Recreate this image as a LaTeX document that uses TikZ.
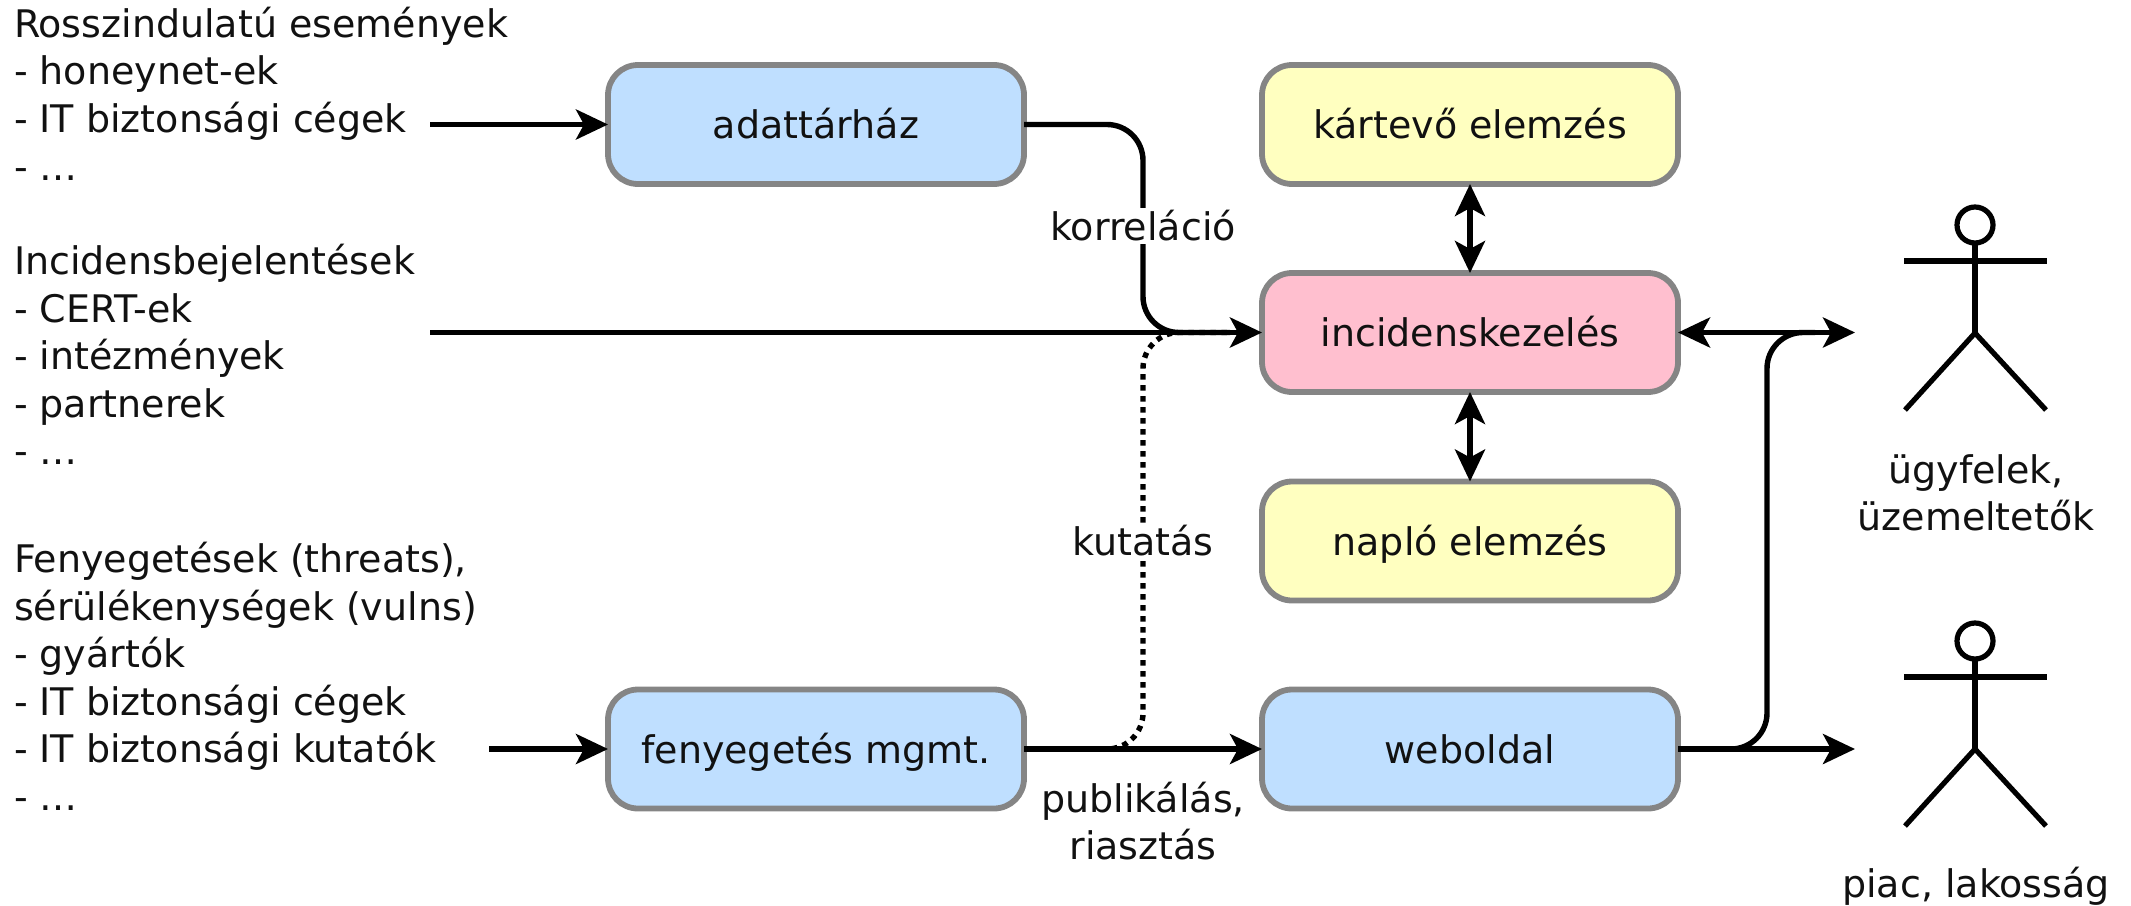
\documentclass[tikz,border=0pt]{standalone}
\usepackage{fontspec}
\setmainfont{DejaVu Sans}
\usetikzlibrary{arrows.meta}
\tikzset{
  x=0.5pt,y=-0.5pt,
  procbox/.style={draw=boxgray,line width=2.9pt,rounded corners=15pt,minimum width=208pt,minimum height=59.5pt,outer sep=0pt,inner sep=0pt,text=inkblack,font=\fontsize{19}{23.8}\selectfont,text height=14pt,text depth=0pt},
  txt/.style={inner sep=0pt,outer sep=0pt,align=center,font=\fontsize{19}{23.8}\selectfont,text=inkblack},
  lefttxt/.style={txt,align=left,anchor=north west},
  lbl/.style={txt,fill=white,inner sep=1.5pt},
  conn/.style={line width=2.7pt,draw=black},
  arr/.style={conn,-{Stealth[length=16pt,width=15pt,inset=4pt]}},
  biarr/.style={conn,{Stealth[length=16pt,width=15pt,inset=4pt]}-{Stealth[length=16pt,width=15pt,inset=4pt]}},
  roundbend/.style={rounded corners=18pt},
  dotline/.style={conn,dash pattern=on 2.75pt off 2.75pt},
  stick/.style={line width=2.6pt,draw=black},
}
\definecolor{boxgray}{HTML}{858585}
\definecolor{inkblack}{HTML}{111111}
\definecolor{fblue}{HTML}{BFDFFF}
\definecolor{fyellow}{HTML}{FFFFC0}
\definecolor{fpink}{HTML}{FFBFCF}
\begin{document}
\begin{tikzpicture}
\useasboundingbox (0,0) rectangle (2131,905);
% boxes
\node[procbox,fill=fblue] (adat) at (816,124.5) {adattárház};
\node[procbox,fill=fyellow] (kart) at (1470,124.5) {kártevő elemzés};
\node[procbox,fill=fpink] (inc) at (1470,332.5) {incidenskezelés};
\node[procbox,fill=fyellow] (naplo) at (1470,541) {napló elemzés};
\node[procbox,fill=fblue] (feny) at (816,749) {fenyegetés mgmt.};
\node[procbox,fill=fblue] (web) at (1470,749) {weboldal};
% left texts
\node[lefttxt] (t1) at (14,7) {Rosszindulatú események\\- honeynet-ek\\- IT biztonsági cégek\\- \ldots};
\node[lefttxt] (t2) at (14,244) {Incidensbejelentések\\- CERT-ek\\- intézmények\\- partnerek\\- \ldots};
\node[lefttxt] (t3) at (14,542) {Fenyegetések (threats),\\sérülékenységek (vulns)\\- gyártók\\- IT biztonsági cégek\\- IT biztonsági kutatók\\- \ldots};
% free ends
\coordinate (s1) at (430,124.5);
\coordinate (s2) at (430,332.5);
\coordinate (s3) at (489,749);
\coordinate (tipa) at (1855,332.5);
\coordinate (tipb) at (1855,749);
\coordinate (corrx) at (1143,226);
\coordinate (kutx) at (1143,541);
\coordinate (webx) at (1767,540);
\coordinate (joinb) at (1815,332.5);
\coordinate (joina) at (1230,332.5);
% connectors
\draw[arr] (s1) -- (adat.west);
\draw[arr] (s2) -- (inc.west);
\draw[arr] (s3) -- (feny.west);
\draw[conn,roundbend] (adat.east) -| (corrx) |- (joina);
\draw[dotline,roundbend] (feny.east) -| (kutx) |- (joina);
\draw[arr] (feny.east) -- (web.west);
\draw[biarr] (kart.south) -- (inc.north);
\draw[biarr] (inc.south) -- (naplo.north);
\draw[biarr] (inc.east) -- (tipa);
\draw[arr] (web.east) -- (tipb);
\draw[conn,roundbend] (web.east) -| (webx) |- (joinb);
% labels on lines
\node[lbl] (lk) at (corrx) {korreláció};
\node[lbl] (lt) at (kutx) {kutatás};
\node[txt] (lp) at (1143,821) {publikálás,\\riasztás};
% actors
\foreach \n/\dy in {a/0,b/416}{
  \coordinate (\n head) at (1975,225+\dy);
  \coordinate (\n neck) at (1975,243+\dy);
  \coordinate (\n hip) at (1975,333+\dy);
  \coordinate (\n la) at (1904,261+\dy);
  \coordinate (\n ra) at (2047,261+\dy);
  \coordinate (\n ll) at (1905,410+\dy);
  \coordinate (\n rl) at (2046,410+\dy);
  \draw[stick] (\n head) circle[radius=9pt];
  \draw[stick] (\n neck) -- (\n hip);
  \draw[stick] (\n la) -- (\n ra);
  \draw[stick] (\n ll) -- (\n hip) -- (\n rl);
}
\node[txt] (u1) at (1976,493) {ügyfelek,\\üzemeltetők};
\node[txt] (u2) at (1976,886) {piac, lakosság};
\end{tikzpicture}
\end{document}
